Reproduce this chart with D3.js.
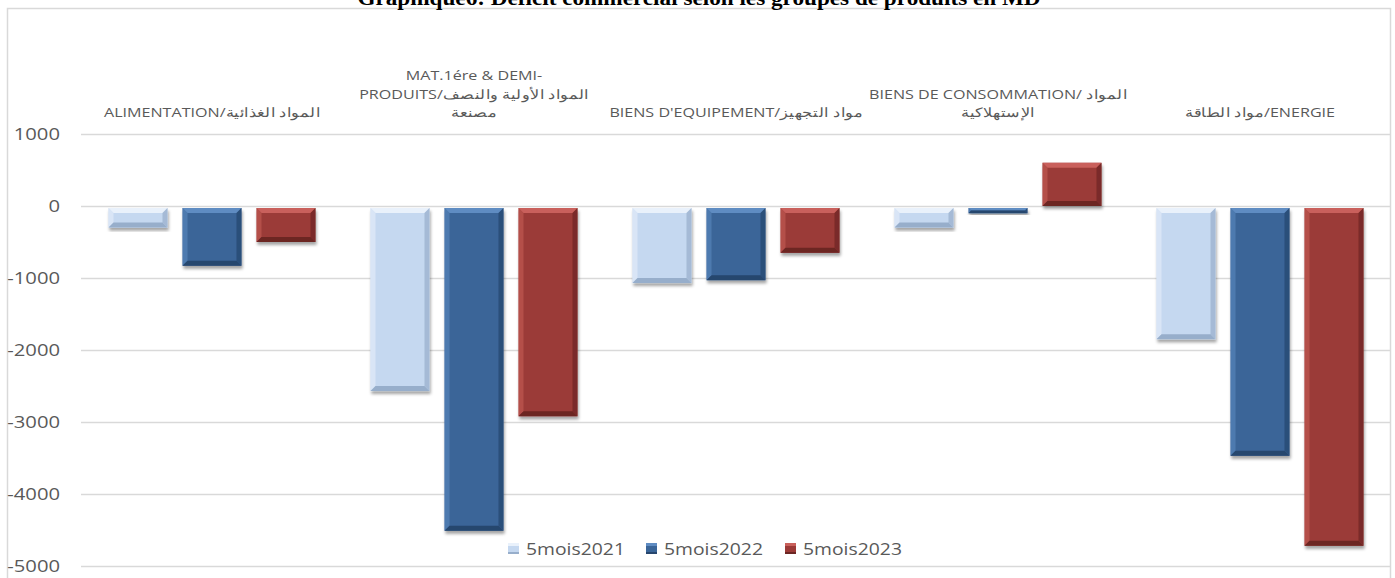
<!DOCTYPE html>
<html>
<head>
<meta charset="utf-8">
<script src="https://cdn.jsdelivr.net/npm/d3@7"></script>
<style>
  html, body { margin: 0; padding: 0; background: #fff; }
  svg { display: block; }
</style>
</head>
<body>
<svg id="chart" width="1395" height="578"></svg>
<script>
// ---------- DATA ----------
const categories = ["ALIMENTATION", "MAT", "EQUIPEMENT", "CONSOMMATION", "ENERGIE"];
const categoryLabels = [
  ["ALIMENTATION/المواد الغذائية"],
  ["MAT.1ére & DEMI-", "PRODUITS/المواد الأولية والنصف", "مصنعة"],
  ["BIENS D'EQUIPEMENT/مواد التجهيز"],
  ["BIENS DE CONSOMMATION/ المواد", "الإستهلاكية"],
  ["مواد الطاقة/ENERGIE"]
];
const seriesNames = ["5mois2021", "5mois2022", "5mois2023"];
const values2021 = [-300, -2570, -1070, -300, -1850];
const values2022 = [-830, -4510, -1030, -100, -3470];
const values2023 = [-500, -2920, -650, 600, -4720];
const yTicks = [1000, 0, -1000, -2000, -3000, -4000, -5000];
const titleText = "Graphique6: Déficit commercial selon les groupes de produits en MD";

// ---------- STYLE ----------
const palette = {
  "5mois2021": { base: "#c5d8f0", light: "#e9f1fb", dark: "#97aecb" },
  "5mois2022": { base: "#3a6598", light: "#5f8cc2", dark: "#27466e" },
  "5mois2023": { base: "#9b3a37", light: "#c9605b", dark: "#6c2624" }
};
const textColor = "#595959";
const sans = "Open Sans, sans-serif";

const svg = d3.select("#chart");
const plot = { left: 81, right: 1391, top: 134, bottom: 566 };

// frame
svg.append("rect").attr("x", 7.5).attr("y", 8.5).attr("width", 1383).attr("height", 600)
  .attr("fill", "none").attr("stroke", "#d9d9d9").attr("stroke-width", 1.5);

// title (clipped at top, as in the source)
svg.append("text").attr("transform", "translate(699,5) scale(1.16,1)").attr("text-anchor", "middle")
  .attr("font-family", "Liberation Serif, Times New Roman, serif").attr("font-weight", "bold")
  .attr("font-size", 20).attr("fill", "#000").text(titleText);

const y = d3.scaleLinear().domain([-5000, 1000]).range([plot.bottom, plot.top]);
const x0 = d3.scaleBand().domain(categories).range([plot.left, plot.right]);
const x1 = d3.scaleBand().domain(seriesNames).range([0, x0.bandwidth()])
  .paddingInner(15 / 74).paddingOuter(0.3716);

// axis + grid
const tickSX = 1.19;
const yAxis = svg.append("g").attr("transform", `translate(${plot.left},0)`)
  .call(d3.axisLeft(y).tickValues(yTicks).tickSize(-(plot.right - plot.left - 1)).tickPadding(21)
    .tickFormat(d => String(d)));
yAxis.select(".domain").remove();
yAxis.selectAll(".tick line").attr("stroke", "#d9d9d9").attr("stroke-width", 1.5);
yAxis.selectAll(".tick text").attr("font-family", sans).attr("font-size", 17)
  .attr("fill", textColor).attr("x", -21 / tickSX).attr("transform", `scale(${tickSX},1)`);

// drop shadow filter
const defs = svg.append("defs");
const f = defs.append("filter").attr("id", "shadow").attr("x", "-20%").attr("y", "-20%")
  .attr("width", "140%").attr("height", "140%");
f.append("feDropShadow").attr("dx", 1).attr("dy", 3).attr("stdDeviation", 1.6)
  .attr("flood-color", "#000").attr("flood-opacity", 0.35);

const seriesData = [values2021, values2022, values2023];
const rows = [];
categories.forEach((c, i) => {
  seriesNames.forEach((s, j) => rows.push({ cat: c, series: s, value: seriesData[j][i] }));
});

const bev = 5;
const bars = svg.append("g").selectAll("g.bar").data(rows).join("g").attr("class", "bar")
  .attr("filter", "url(#shadow)");
bars.each(function (d) {
  const g = d3.select(this);
  const bx = x0(d.cat) + x1(d.series);
  const bw = x1.bandwidth();
  const yTop = Math.min(y(0), y(d.value)) + (d.value < 0 ? 2 : 0);
  const yBot = Math.max(y(0), y(d.value));
  const bh = yBot - yTop;
  const p = palette[d.series];
  const b = Math.min(bev, bh / 2);
  g.append("rect").attr("x", bx).attr("y", yTop).attr("width", bw).attr("height", bh).attr("fill", p.base);
  g.append("polygon").attr("points", [[bx, yTop], [bx + bw, yTop], [bx + bw - b, yTop + b], [bx + b, yTop + b]].join(" "))
    .attr("fill", p.light);
  g.append("polygon").attr("points", [[bx, yTop], [bx + b, yTop + b], [bx + b, yBot - b], [bx, yBot]].join(" "))
    .attr("fill", p.light).attr("opacity", 0.55);
  g.append("polygon").attr("points", [[bx + bw, yTop], [bx + bw, yBot], [bx + bw - b, yBot - b], [bx + bw - b, yTop + b]].join(" "))
    .attr("fill", p.dark).attr("opacity", 0.7);
  g.append("polygon").attr("points", [[bx, yBot], [bx + bw, yBot], [bx + bw - b, yBot - b], [bx + b, yBot - b]].join(" "))
    .attr("fill", p.dark);
});

// category labels
const labelSX = 1.24;
const labelG = svg.append("g").attr("font-family", sans).attr("font-size", 13)
  .attr("fill", textColor).attr("text-anchor", "middle");
categories.forEach((c, i) => {
  const lines = categoryLabels[i];
  const cx = x0(c) + x0.bandwidth() / 2;
  const lastY = 117;
  lines.forEach((ln, k) => {
    labelG.append("text")
      .attr("transform", `translate(${cx},${lastY - (lines.length - 1 - k) * 18.5}) scale(${labelSX},1)`)
      .attr("direction", "ltr").text(ln);
  });
});

// legend
const legSX = 1.21;
const legend = svg.append("g").attr("font-family", sans).attr("font-size", 16).attr("fill", textColor);
const legendX = [508, 646, 785];
seriesNames.forEach((s, i) => {
  const p = palette[s];
  const lg = legend.append("g").attr("transform", `translate(${legendX[i]},543)`);
  lg.append("rect").attr("width", 11).attr("height", 11).attr("fill", p.base);
  lg.append("rect").attr("width", 11).attr("height", 3).attr("fill", p.light);
  lg.append("rect").attr("y", 9).attr("width", 11).attr("height", 2).attr("fill", p.dark);
  lg.append("text").attr("transform", `translate(18,12) scale(${legSX},1)`).text(s);
});
</script>
</body>
</html>
